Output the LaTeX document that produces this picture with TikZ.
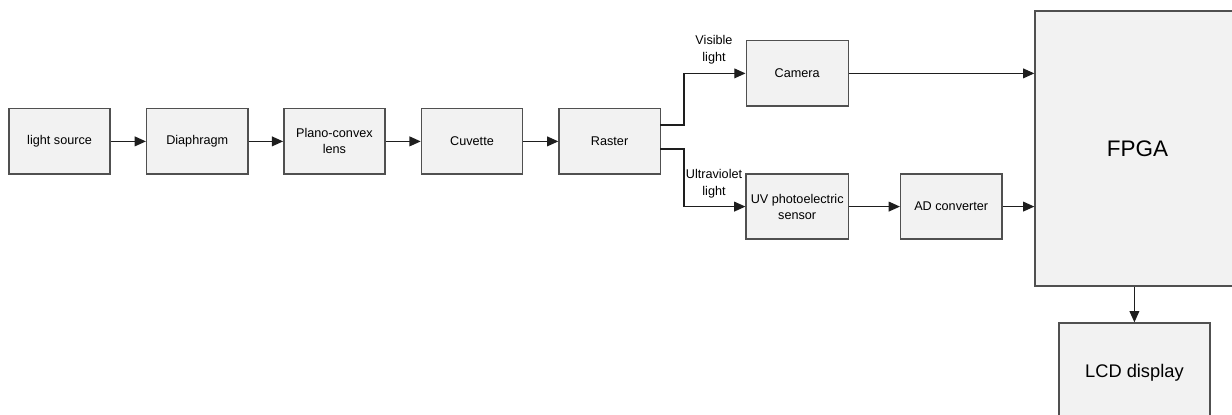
\documentclass[tikz,border=0pt]{standalone}
\usepackage{fontspec}
\setmainfont{Liberation Sans}
\usepackage{xcolor}
\usetikzlibrary{arrows.meta}
\definecolor{box-fill}{HTML}{F2F2F2}
\definecolor{box-edge}{HTML}{505050}
\definecolor{wire}{HTML}{1E1E1E}

\begin{document}
\begin{tikzpicture}[
    block/.style={draw=box-edge, fill=box-fill, line width=1pt, align=center,
                  minimum width=2.53cm, minimum height=1.63cm,
                  font=\fontsize{9}{11.5}\selectfont},
    flow/.style={draw=wire, line width=0.85pt, -{Triangle[length=8pt, width=7pt]}},
    tag/.style={align=center, font=\fontsize{9}{12}\selectfont}]
    % Diagram: optical path into two detectors, both feeding the FPGA.
    % Coordinates: (x, y), page 30.8cm x 10.375cm
    %   main row at y=6.84, boxes 2.53cm x 1.63cm
    %   camera at (19.93,8.54), UV sensor at (19.93,5.21), AD at (23.78,5.21)
    %   FPGA at (28.44,6.66), runs past the right edge
    %   LCD at (28.36,1.05), runs past the bottom edge
    \clip (0,0) rectangle (30.8,10.375);
    \node[block] (light) at (1.49,6.84) {light source};
    \node[block] (diaphragm) at (4.93,6.84) {Diaphragm};
    \node[block] (lens) at (8.36,6.84) {Plano-convex\\lens};
    \node[block] (cuvette) at (11.80,6.84) {Cuvette};
    \node[block] (raster) at (15.24,6.84) {Raster};
    \node[block, minimum width=2.55cm] (camera) at (19.93,8.54) {Camera};
    \node[block, minimum width=2.55cm] (uv) at (19.93,5.21) {UV photoelectric\\sensor};
    \node[block] (adc) at (23.78,5.21) {AD converter};
    \node[block, minimum width=5.13cm, minimum height=6.88cm,
          font=\fontsize{16}{19}\selectfont] (fpga) at (28.44,6.66) {FPGA};
    \node[block, minimum width=3.78cm, minimum height=2.5cm,
          font=\fontsize{13}{15}\selectfont] (lcd) at (28.36,1.05) {LCD display};
    \coordinate (vis) at (16.5,7.25);
    \coordinate (ult) at (16.5,6.65);
    \node[tag] (vislabel) at (17.85,9.14) {Visible\\light};
    \node[tag] (ultlabel) at (17.85,5.78) {Ultraviolet\\light};
    \draw[flow] (light) -- (diaphragm);
    \draw[flow] (diaphragm) -- (lens);
    \draw[flow] (lens) -- (cuvette);
    \draw[flow] (cuvette) -- (raster);
    \draw[flow] (vis) -- (17.1,7.25) |- (camera.west);
    \draw[flow] (ult) -- (17.1,6.65) |- (uv.west);
    \draw[flow] (uv) -- (adc);
    \draw[flow] (camera) -- (camera -| fpga.west);
    \draw[flow] (adc) -- (adc -| fpga.west);
    \draw[flow] (fpga.south -| lcd.north) -- (lcd.north);
\end{tikzpicture}
\end{document}
